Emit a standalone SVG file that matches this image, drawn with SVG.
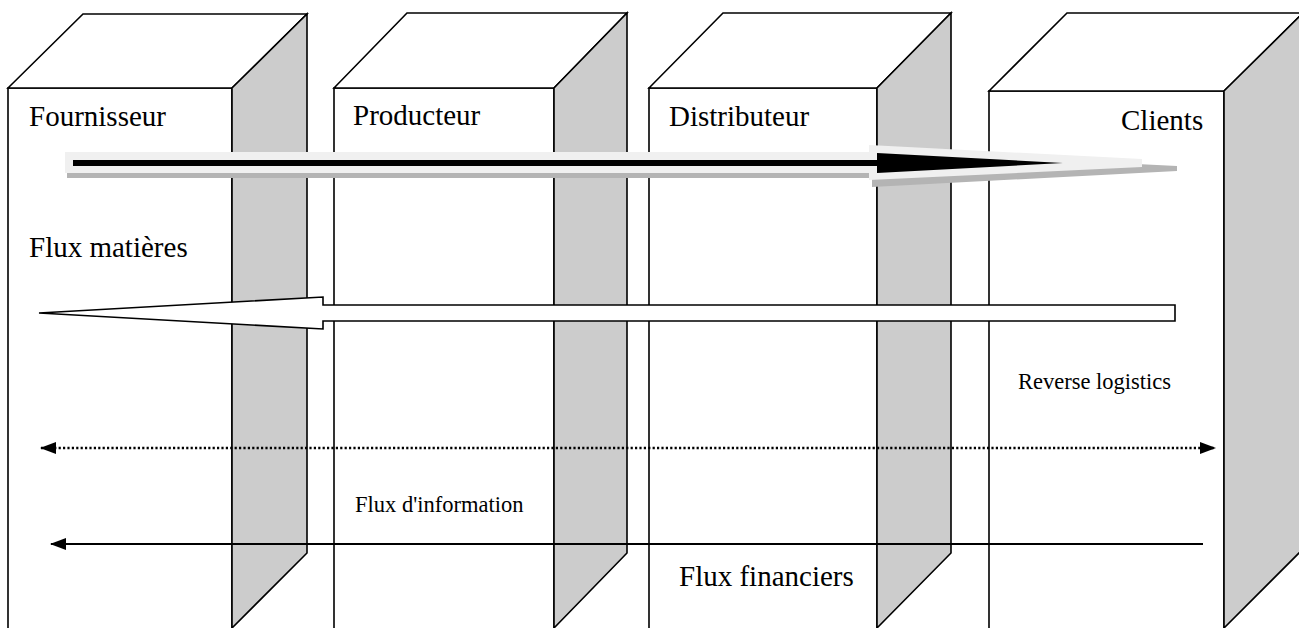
<svg xmlns="http://www.w3.org/2000/svg" width="1299" height="628" viewBox="0 0 1299 628">
  <style>
    .face { fill: #ffffff; stroke: #000000; stroke-width: 1.6; stroke-linejoin: miter; }
    .side { fill: #cccccc; stroke: #000000; stroke-width: 1.6; stroke-linejoin: miter; }
    .big { font-family: "Liberation Serif", "Times New Roman", serif; font-size: 29px; fill: #000000; }
    .small { font-family: "Liberation Serif", "Times New Roman", serif; font-size: 22.5px; fill: #000000; }
    .flow { stroke: #000000; stroke-width: 2.2; fill: none; }
  </style>
  <defs>
    <marker id="headFill" markerWidth="16" markerHeight="12" refX="15" refY="6" orient="auto-start-reverse" markerUnits="userSpaceOnUse">
      <path d="M0,0 L16,6 L0,12 Z" fill="#000000"/>
    </marker>
  </defs>

  <rect width="1299" height="628" fill="#ffffff"/>

  <!-- Supply chain actors drawn as extruded blocks -->
  <g id="fournisseur">
    <path class="face" d="M8,628 L8,88 L232,88 L232,628"/>
    <path class="face" d="M8,88 L83,14 L307,14 L232,88 Z"/>
    <path class="side" d="M232,88 L307,14 L307,553 L232,628 Z"/>
    <text class="big" x="29" y="126">Fournisseur</text>
  </g>

  <g id="producteur">
    <path class="face" d="M334,628 L334,88 L554,88 L554,628"/>
    <path class="face" d="M334,88 L407,13 L627,13 L554,88 Z"/>
    <path class="side" d="M554,88 L627,13 L627,553 L554,628 Z"/>
    <text class="big" x="353" y="125">Producteur</text>
  </g>

  <g id="distributeur">
    <path class="face" d="M649,628 L649,88 L877,88 L877,628"/>
    <path class="face" d="M649,88 L723,13 L951,13 L877,88 Z"/>
    <path class="side" d="M877,88 L951,13 L951,553 L877,628 Z"/>
    <text class="big" x="669" y="126">Distributeur</text>
  </g>

  <g id="clients">
    <path class="face" d="M989,628 L989,91 L1224,91 L1224,628"/>
    <path class="face" d="M989,91 L1067,13 L1303,13 L1224,91 Z"/>
    <path class="side" d="M1224,91 L1303,13 L1303,549 L1224,628 Z"/>
    <text class="big" x="1121" y="130">Clients</text>
  </g>

  <!-- Flows between the actors -->
  <g id="connectors">
    <!-- material flow: embossed arrow -->
    <g id="flux-matieres">
      <polygon fill="#b4b4b4" points="67,157 872,157 872,151 1177,166 1177,171 872,187 872,178 67,178"/>
      <polygon fill="#f0f0f0" points="65,152 869,152 869,145 1142,159 1142,167 869,180 869,173 65,173"/>
      <polygon fill="#000000" points="73,160 877,160 877,153 1063,163 877,173 877,166 73,166"/>
    </g>
    <!-- reverse logistics: hollow arrow -->
    <polygon id="reverse" fill="#ffffff" stroke="#000000" stroke-width="1.6" stroke-linejoin="miter"
      points="39,313 323,297 323,305 1175,305 1175,321 323,321 323,329"/>
    <!-- information flow: dotted two-way arrow -->
    <line id="information" x1="41" y1="448" x2="1215" y2="448" stroke="#000000" stroke-width="2.4" stroke-dasharray="2.2 2.2" marker-start="url(#headFill)" marker-end="url(#headFill)"/>
    <!-- financial flow -->
    <line id="financiers" class="flow" x1="1203" y1="544" x2="51" y2="544" marker-end="url(#headFill)"/>
  </g>

  <g id="labels">
    <text class="big" x="29" y="257">Flux matières</text>
    <text class="small" x="1018" y="389">Reverse logistics</text>
    <text class="small" x="355" y="512">Flux d'information</text>
    <text class="big" x="679" y="586">Flux financiers</text>
  </g>
</svg>
